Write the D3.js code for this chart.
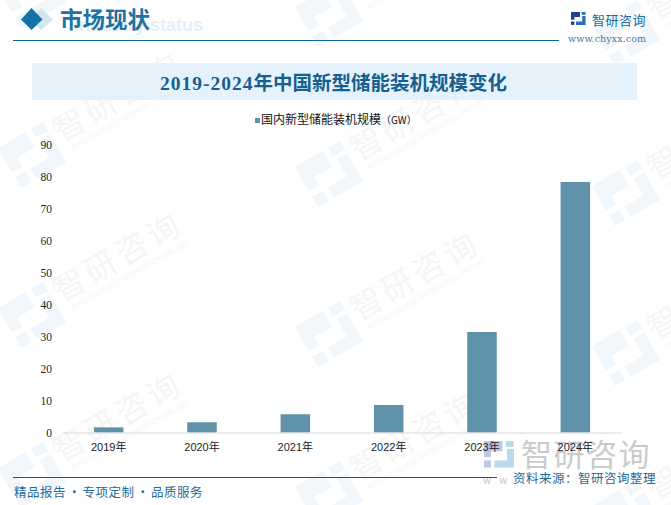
<!DOCTYPE html>
<html>
<head>
<meta charset="utf-8">
<script src="https://cdn.jsdelivr.net/npm/d3@7"></script>
<style>
html, body { margin: 0; padding: 0; background: #fff; }
svg { display: block; }
text { font-family: "Noto Sans CJK SC", sans-serif; }
</style>
</head>
<body>
<div id="chart"></div>
<script>
var years = ["2019年", "2020年", "2021年", "2022年", "2023年", "2024年"];
var capacity = [1.6, 3.2, 5.7, 8.6, 31.4, 78.3];
var yTicks = [0, 10, 20, 30, 40, 50, 60, 70, 80, 90];
var seriesName = "国内新型储能装机规模";
var seriesUnit = "（GW）";
var titleYears = "2019-2024";
var titleRest = "年中国新型储能装机规模变化";
var footerParts = ["精品报告", "专项定制", "品质服务"];
var wmColumns = [0, 1, 2];
var wmRows = [-1, 0, 1, 2, 3];

var width = 671, height = 505;
var svg = d3.select("#chart").append("svg").attr("width", width).attr("height", height);

// logo made of two bracket shapes and a dot
function logo(g, s, c1, c2) {
    g.append("path").attr("d", "M0 0H" + 16*s + "V" + 9*s + "H" + 6*s + "V" + 14*s + "H0Z").attr("fill", c1);
    g.append("rect").attr("x", 0).attr("y", 17*s).attr("width", 6*s).attr("height", 6*s).attr("fill", c1);
    g.append("rect").attr("x", 19*s).attr("y", 0).attr("width", 7*s).attr("height", 5*s).attr("fill", c2);
    g.append("path").attr("d", "M" + 20*s + " " + 7*s + "H" + 26*s + "V" + 23*s + "H" + 9*s + "V" + 17*s + "H" + 20*s + "Z").attr("fill", c2);
}

// watermark layer, one tile every 297px across and 160px down
var wm = svg.append("g");
wmColumns.forEach(function(c) {
    wmRows.forEach(function(r) {
        var cx = 118 + c * 297, cy = 97 + r * 160 + c * 19;
        var l = wm.append("g").attr("transform", "translate(" + (cx - 86) + "," + (cy + 58) + ") rotate(-30) translate(-26,-23)");
        logo(l, 2, "#f1f6fa", "#f1f6fa");
        var g = wm.append("g").attr("transform", "translate(" + cx + "," + cy + ") rotate(-30)");
        g.append("text").attr("text-anchor", "middle").attr("y", 11).attr("font-size", 32).attr("letter-spacing", 4)
            .attr("fill", "#f5f5f5").text("智研咨询");
        g.append("text").attr("text-anchor", "middle").attr("y", 24).attr("font-size", 7.5)
            .attr("textLength", 133).style("font-family", "'Liberation Sans'").attr("fill", "#f6f6f6").text("INTELLIGENCE RESEARCH GROUP");
    });
});

// header
svg.append("text").attr("x", 74).attr("y", 31).attr("font-size", 18).attr("font-weight", 700)
    .style("font-family", "'Liberation Sans'").attr("fill", "#e3f0f9").text("Industry status");
svg.append("path").attr("d", "M41 8L53 19.5L41 30L30 19.5Z").attr("fill", "#d3e5f0");
svg.append("path").attr("d", "M31.5 8L42.5 19.5L31.5 30L21 19.5Z").attr("fill", "#1372aa");
svg.append("text").attr("x", 60).attr("y", 28).attr("font-size", 22.5).attr("font-weight", 700)
    .attr("fill", "#20739f").text("市场现状");
svg.append("line").attr("x1", 13).attr("x2", 559).attr("y1", 40.5).attr("y2", 40.5).attr("stroke", "#0f659b").attr("stroke-width", 1);

var topLogo = svg.append("g").attr("transform", "translate(571,12)");
logo(topLogo, 0.56, "#1f3f8f", "#2a6fb0");
svg.append("text").attr("x", 592).attr("y", 24.5).attr("font-size", 13).attr("letter-spacing", 0.5).attr("fill", "#1a6ca3").text("智研咨询");
svg.append("text").attr("x", 568).attr("y", 42).attr("font-size", 9.5).attr("letter-spacing", 0.1)
    .style("font-family", "'DejaVu Serif'").attr("fill", "#3f7ca8").text("www.chyxx.com");

// title band
svg.append("rect").attr("x", 32).attr("y", 63).attr("width", 605).attr("height", 37).attr("fill", "#e5f2fb");
var title = svg.append("text").attr("x", 160).attr("y", 90).attr("font-size", 19.5).attr("font-weight", 700)
    .style("font-family", "'Liberation Serif','Noto Sans CJK SC'").attr("fill", "#175f8e");
title.append("tspan").attr("letter-spacing", 1).text(titleYears);
title.append("tspan").text(titleRest);

// legend
svg.append("rect").attr("x", 255).attr("y", 118).attr("width", 5).attr("height", 5).attr("fill", "#5f92aa");
var legend = svg.append("text").attr("x", 261).attr("y", 124).attr("font-size", 12).attr("fill", "#111");
legend.append("tspan").text(seriesName);
legend.append("tspan").attr("font-size", 10).text(seriesUnit);

// bottom stamp sits under the axis labels
var stamp = svg.append("g").attr("transform", "translate(484,441)");
logo(stamp, 1.15, "#bcc6e0", "#b9d9ec");
svg.append("text").attr("x", 521).attr("y", 466).attr("font-size", 31).attr("letter-spacing", 1.5).attr("fill", "#cbcbcb").text("智研咨询");
svg.append("text").attr("x", 483).attr("y", 484).attr("font-size", 10).attr("letter-spacing", 3).attr("fill", "#c6c6c6").text("w w");

// plot
var x = d3.scaleBand().domain(years).range([62, 622]);
var y = d3.scaleLinear().domain([0, 90]).range([432.5, 144.5]);

svg.selectAll("rect.bar").data(capacity).enter().append("rect")
    .attr("class", "bar")
    .attr("x", function(d, i) { return x(years[i]) + x.bandwidth() / 2 - 14.75; })
    .attr("y", function(d) { return y(d); })
    .attr("width", 29.5)
    .attr("height", function(d) { return y(0) - y(d); })
    .attr("fill", "#5f92aa");

var yAxis = svg.append("g").attr("transform", "translate(62,0)")
    .call(d3.axisLeft(y).tickValues(yTicks).tickSize(0).tickPadding(10));
yAxis.select(".domain").remove();
yAxis.selectAll("text").attr("font-size", 11.5).style("font-family", "'Liberation Serif'").attr("fill", "#222");

var xAxis = svg.append("g").attr("transform", "translate(0,432.5)")
    .call(d3.axisBottom(x).tickSize(0).tickPadding(11));
xAxis.select(".domain").attr("stroke", "#d9d9d9").attr("stroke-width", 1);
xAxis.selectAll("text").attr("font-size", 11).style("font-family", "'Liberation Sans','Noto Sans CJK SC'").attr("fill", "#222");

// footer
svg.append("line").attr("x1", 13).attr("x2", 497).attr("y1", 477.5).attr("y2", 477.5).attr("stroke", "#0f5c8c").attr("stroke-width", 1);
var footer = svg.append("text").attr("x", 14).attr("y", 497).attr("font-size", 12.5).attr("letter-spacing", 0.5).attr("fill", "#1f6a9c");
footerParts.forEach(function(part, i) {
    if (i > 0) footer.append("tspan").attr("dx", 2).attr("letter-spacing", 0).text("·");
    footer.append("tspan").attr("dx", i > 0 ? 2 : 0).text(part);
});
svg.append("text").attr("x", 513).attr("y", 483).attr("font-size", 12.5).attr("letter-spacing", 0.5).attr("fill", "#1f6a9c").text("资料来源：智研咨询整理");
</script>
</body>
</html>
